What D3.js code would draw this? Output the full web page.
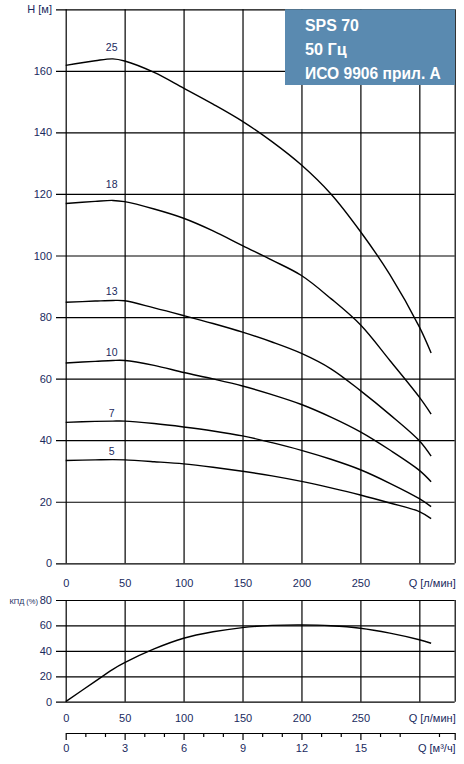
<!DOCTYPE html>
<html><head><meta charset="utf-8">
<script src="https://cdn.jsdelivr.net/npm/d3@7"></script>
<style>
body{margin:0;background:#fff}
svg{display:block}
text{font-family:"Liberation Sans",Arial,Helvetica,sans-serif}
</style>
</head><body>
<script>
// ---------- data ----------
const flowQ = [0, 25, 40, 50, 75, 100, 125, 150, 175, 200, 225, 250, 275, 300, 310]; // l/min
const pumpModels = ["25", "18", "13", "10", "7", "5"];
const head25 = [161.8, 163.3, 163.9, 163.2, 159.5, 154.4, 149.2, 143.6, 137.0, 129.4, 120.0, 107.8, 93.8, 76.8, 68.3];
const head18 = [116.9, 117.6, 117.9, 117.5, 115.1, 112.1, 108.0, 103.2, 98.5, 93.5, 86.0, 77.5, 65.9, 54.0, 48.5];
const head13 = [84.8, 85.2, 85.4, 85.3, 83.0, 80.5, 77.9, 75.1, 71.9, 68.2, 63.2, 56.1, 48.3, 39.8, 34.8];
const head10 = [65.1, 65.6, 65.9, 65.9, 64.3, 62.0, 59.9, 57.6, 54.8, 51.6, 47.5, 42.7, 36.8, 30.2, 26.5];
const head7  = [45.8, 46.1, 46.2, 46.2, 45.4, 44.3, 43.0, 41.4, 39.2, 36.7, 33.8, 30.4, 26.0, 21.0, 18.4];
const head5  = [33.4, 33.6, 33.7, 33.6, 33.0, 32.3, 31.2, 29.9, 28.4, 26.6, 24.5, 22.2, 19.6, 16.8, 14.5];
const efficiency = [0, 16.0, 25.5, 30.7, 41.5, 49.9, 55.0, 58.3, 60.0, 60.4, 59.8, 57.8, 53.9, 48.7, 46.0]; // %
const headTicks = [0, 20, 40, 60, 80, 100, 120, 140, 160];
const flowTicks = [0, 50, 100, 150, 200, 250];
const effTicks = [0, 20, 40, 60, 80];
const m3hTicks = [0, 3, 6, 9, 12, 15];
const titleLines = ["SPS 70", "50 Гц", "ИСО 9906 прил. А"];
const labelFlow = 39;

// ---------- layout ----------
const W = 464, H = 764;
const X0 = 65.7, X1 = 454.7, TICKX = 56;
const inkText = "#1a2a5e";

const svg = d3.select("body").append("svg").attr("width", W).attr("height", H);

const xQ = d3.scaleLinear().domain([0, 330]).range([X0, X1]);
const yH = d3.scaleLinear().domain([0, 180]).range([563.3, 9.3]);
const yE = d3.scaleLinear().domain([0, 80]).range([701.7, 600]);
const xM = d3.scaleLinear().domain([0, 19.8]).range([X0, X1]);

function styleAxis(g, size) {
  g.select(".domain").remove();
  g.selectAll(".tick line").attr("stroke", "#000").attr("stroke-width", 1.2);
  g.selectAll(".tick text").attr("fill", inkText).style("font-size", size + "px")
    .style("font-family", '"Liberation Sans",Arial,sans-serif');
}

// ---------- head chart ----------
const gHy = svg.append("g").attr("transform", `translate(${TICKX},0)`)
  .call(d3.axisLeft(yH).tickValues([...headTicks, 180]).tickSize(-(X1 - TICKX)).tickPadding(4)
    .tickFormat(d => d === 180 ? "H [м]" : d));
styleAxis(gHy, 11);

const gHx = svg.append("g").attr("transform", `translate(0,${yH(0)})`)
  .call(d3.axisBottom(xQ).tickValues([...flowTicks, 300, 330]).tickSize(-(yH(0) - yH(180))).tickPadding(16)
    .tickFormat(d => flowTicks.includes(d) ? d : ""));
styleAxis(gHx, 11);

svg.append("text").attr("x", X1 + 1).attr("y", 586.5).attr("text-anchor", "end")
  .attr("fill", inkText).style("font-size", "11px").text("Q [л/мин]");

const heads = [head25, head18, head13, head10, head7, head5];
const lineH = d3.line().x((d, i) => xQ(flowQ[i])).y(d => yH(d)).curve(d3.curveCatmullRom.alpha(0.5));
svg.append("g").selectAll("path").data(heads).join("path")
  .attr("d", d => lineH(d)).attr("fill", "none").attr("stroke", "#000").attr("stroke-width", 1.4);

const labelOffsets = [8, 12, 5, 4, 4, 5];
svg.append("g").selectAll("text").data(pumpModels).join("text")
  .attr("x", xQ(labelFlow)).attr("text-anchor", "middle")
  .attr("y", (d, i) => yH(d3.max(heads[i])) - labelOffsets[i])
  .attr("fill", inkText).style("font-size", "10.5px").text(d => d);

// ---------- title box ----------
svg.append("rect").attr("x", 285).attr("y", 9.3).attr("width", 170).attr("height", 75.7).attr("fill", "#5a8ab0");
const titleW = [54, 41.7, 136];
svg.append("g").selectAll("text").data(titleLines).join("text")
  .attr("x", 0).attr("y", 0)
  .attr("fill", "#fff").attr("font-weight", "bold")
  .style("font-family", '"Liberation Sans",Arial,sans-serif')
  .style("font-size", "17px")
  .text(d => d)
  .each(function (d, i) {
    const len = this.getComputedTextLength();
    const sx = titleW[i] / len;
    d3.select(this).attr("transform", `translate(305,${30.7 + i * 24.2}) scale(${sx},1)`);
  });

// ---------- efficiency chart ----------
const gEy = svg.append("g").attr("transform", `translate(${TICKX},0)`)
  .call(d3.axisLeft(yE).tickValues(effTicks).tickSize(-(X1 - TICKX)).tickPadding(4));
styleAxis(gEy, 11);
svg.append("text").attr("x", 38).attr("y", 603.5).attr("text-anchor", "end")
  .attr("fill", inkText).style("font-size", "7.5px").text("КПД (%)");

const gEx = svg.append("g").attr("transform", `translate(0,${yE(0)})`)
  .call(d3.axisBottom(xQ).tickValues([...flowTicks, 300, 330]).tickSize(-(yE(0) - yE(80))).tickPadding(13)
    .tickFormat(d => flowTicks.includes(d) ? d : ""));
styleAxis(gEx, 11);
svg.append("text").attr("x", X1 + 1).attr("y", 721.5).attr("text-anchor", "end")
  .attr("fill", inkText).style("font-size", "11px").text("Q [л/мин]");

const lineE = d3.line().x((d, i) => xQ(flowQ[i])).y(d => yE(d)).curve(d3.curveCatmullRom.alpha(0.5));
svg.append("path").datum(efficiency).attr("d", lineE)
  .attr("fill", "none").attr("stroke", "#000").attr("stroke-width", 1.4);

// ---------- m3/h axis ----------
const axisY = 733;
const minorTicks = d3.range(0, 20).filter(v => v % 3 !== 0);
const gMminor = svg.append("g").attr("transform", `translate(0,${axisY})`)
  .call(d3.axisBottom(xM).tickValues(minorTicks).tickSize(4).tickFormat(""));
gMminor.select(".domain").remove();
gMminor.selectAll(".tick line").attr("stroke", "#000").attr("stroke-width", 1.2);

const gM = svg.append("g").attr("transform", `translate(0,${axisY})`)
  .call(d3.axisBottom(xM).tickValues([...m3hTicks, 19.8]).tickSizeInner(7).tickSizeOuter(0).tickPadding(4)
    .tickFormat(d => m3hTicks.includes(d) ? d : ""));
gM.select(".domain").attr("stroke", "#000").attr("stroke-width", 1.2);
gM.selectAll(".tick line").attr("stroke", "#000").attr("stroke-width", 1.2);
gM.selectAll(".tick text").attr("fill", inkText).style("font-size", "11px");
svg.append("text").attr("x", X1 + 1).attr("y", 751.5).attr("text-anchor", "end")
  .attr("fill", inkText).style("font-size", "11px").text("Q [м³/ч]");
</script>
</body></html>
